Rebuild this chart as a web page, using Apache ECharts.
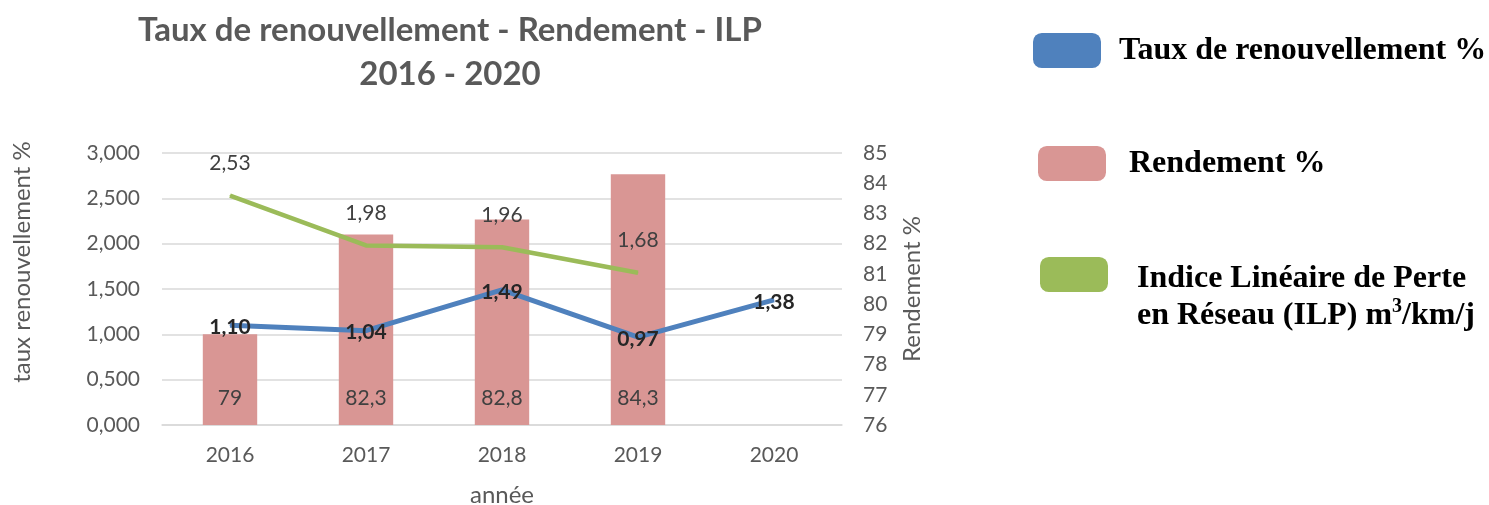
<!DOCTYPE html>
<html>
<head>
<meta charset="utf-8">
<script src="https://cdn.jsdelivr.net/npm/echarts@6/dist/echarts.min.js"></script>
<style>
  html, body { margin: 0; padding: 0; background: #fff; }
  #chart { width: 1489px; height: 505px; }
</style>
</head>
<body>
<div id="chart"></div>
<script>
// données
var annees = ['2016', '2017', '2018', '2019', '2020'];
var taux = [1.10, 1.04, 1.49, 0.97, 1.38];
var rendement = [79, 82.3, 82.8, 84.3, null];
var ilp = [2.53, 1.98, 1.96, 1.68, null];

var nomTaux = 'Taux de renouvellement %';
var nomRendement = 'Rendement %';
var nomIlp = 'Indice Linéaire de Perte en Réseau (ILP) m3/km/j';

var gris = '#595959';
var police = 'Lato';
var serif = 'Liberation Serif';

function virgule(v, n) {
  return v.toFixed(n).replace('.', ',');
}

function legende(nom, x, y, pad, texte) {
  return {
    data: [nom],
    left: x,
    top: y,
    orient: 'vertical',
    icon: 'roundRect',
    itemWidth: 68,
    itemHeight: 35,
    selectedMode: false,
    formatter: function (n) { return texte === undefined ? n : texte; },
    textStyle: {
      fontFamily: serif,
      fontWeight: 'bold',
      fontSize: 32,
      color: '#000',
      padding: pad
    }
  };
}

var chart = echarts.init(document.getElementById('chart'));

var option = {
  animation: false,
  title: [
    {
      text: 'Taux de renouvellement - Rendement - ILP\n2016 - 2020',
      left: 445,
      top: 3,
      textAlign: 'center',
      textStyle: {
        fontFamily: police,
        fontWeight: 'bold',
        fontSize: 33,
        lineHeight: 44,
        color: gris
      }
    },
    {
      // texte de la 3e légende, sur deux lignes
      text: '{t|Indice Linéaire de Perte}\n{t|en Réseau (ILP) m}{s|3}{t|/km/j}',
      left: 1137,
      top: 260,
      padding: 0,
      textStyle: {
        rich: {
          t: { fontFamily: serif, fontWeight: 'bold', fontSize: 32, lineHeight: 37, color: '#000' },
          s: { fontFamily: serif, fontWeight: 'bold', fontSize: 20, lineHeight: 37, color: '#000', verticalAlign: 'top', padding: [0, 0, 14, 0] }
        }
      }
    }
  ],
  legend: [
    legende(nomTaux, 1028, 28, [0, 0, 0, 13]),
    legende(nomRendement, 1033, 141, [0, 0, 0, 18]),
    legende(nomIlp, 1035, 252, 0, '')
  ],
  grid: {
    left: 162,
    right: 647,
    top: 153,
    bottom: 80,
    outerBoundsMode: 'none'
  },
  xAxis: {
    type: 'category',
    data: annees,
    name: 'année',
    nameLocation: 'middle',
    nameGap: 58,
    nameTextStyle: { fontFamily: police, fontSize: 24, color: gris },
    axisLine: { lineStyle: { color: '#D9D9D9', width: 1.5 } },
    axisTick: { show: false },
    axisLabel: { fontFamily: police, fontSize: 21, color: gris, margin: 20 }
  },
  yAxis: [
    {
      type: 'value',
      min: 0,
      max: 3,
      interval: 0.5,
      name: 'taux renouvellement %',
      nameLocation: 'middle',
      nameGap: 128,
      nameTextStyle: { fontFamily: police, fontSize: 24, color: gris, padding: [0, 0, 0, 54] },
      axisLine: { show: false },
      axisTick: { show: false },
      splitLine: { lineStyle: { color: '#D9D9D9', width: 1.5 } },
      axisLabel: {
        fontFamily: police, fontSize: 21, color: gris, margin: 22,
        formatter: function (v) { return virgule(v, 3); }
      }
    },
    {
      type: 'value',
      min: 76,
      max: 85,
      interval: 1,
      name: 'Rendement %',
      nameLocation: 'middle',
      nameGap: 58,
      nameTextStyle: { fontFamily: police, fontSize: 24, color: gris },
      axisLine: { show: false },
      axisTick: { show: false },
      splitLine: { show: false },
      axisLabel: { fontFamily: police, fontSize: 21, color: gris, margin: 21 }
    }
  ],
  series: [
    {
      name: nomRendement,
      type: 'bar',
      yAxisIndex: 1,
      data: rendement,
      barWidth: '40%',
      itemStyle: { color: '#D99694' },
      label: {
        show: true,
        position: 'insideBottom',
        distance: 16,
        fontFamily: police,
        fontSize: 21,
        color: '#404040',
        formatter: function (p) { return String(p.value).replace('.', ','); }
      },
      z: 1
    },
    {
      name: nomIlp,
      type: 'line',
      data: ilp,
      symbol: 'circle',
      symbolSize: 1,
      showSymbol: true,
      lineStyle: { color: '#9BBB59', width: 4.5 },
      itemStyle: { color: '#9BBB59' },
      label: {
        show: true,
        position: 'top',
        distance: 21,
        fontFamily: police,
        fontSize: 21,
        color: '#404040',
        formatter: function (p) { return virgule(p.value, 2); }
      },
      z: 3
    },
    {
      name: nomTaux,
      type: 'line',
      data: taux,
      symbol: 'circle',
      symbolSize: 1,
      showSymbol: true,
      lineStyle: { color: '#4F81BD', width: 5 },
      itemStyle: { color: '#4F81BD' },
      label: {
        show: true,
        position: 'inside',
        offset: [0, 2],
        fontFamily: police,
        fontWeight: 'bold',
        fontSize: 21,
        color: '#262626',
        formatter: function (p) { return virgule(p.value, 2); }
      },
      z: 4
    }
  ]
};

chart.setOption(option);
</script>
</body>
</html>
